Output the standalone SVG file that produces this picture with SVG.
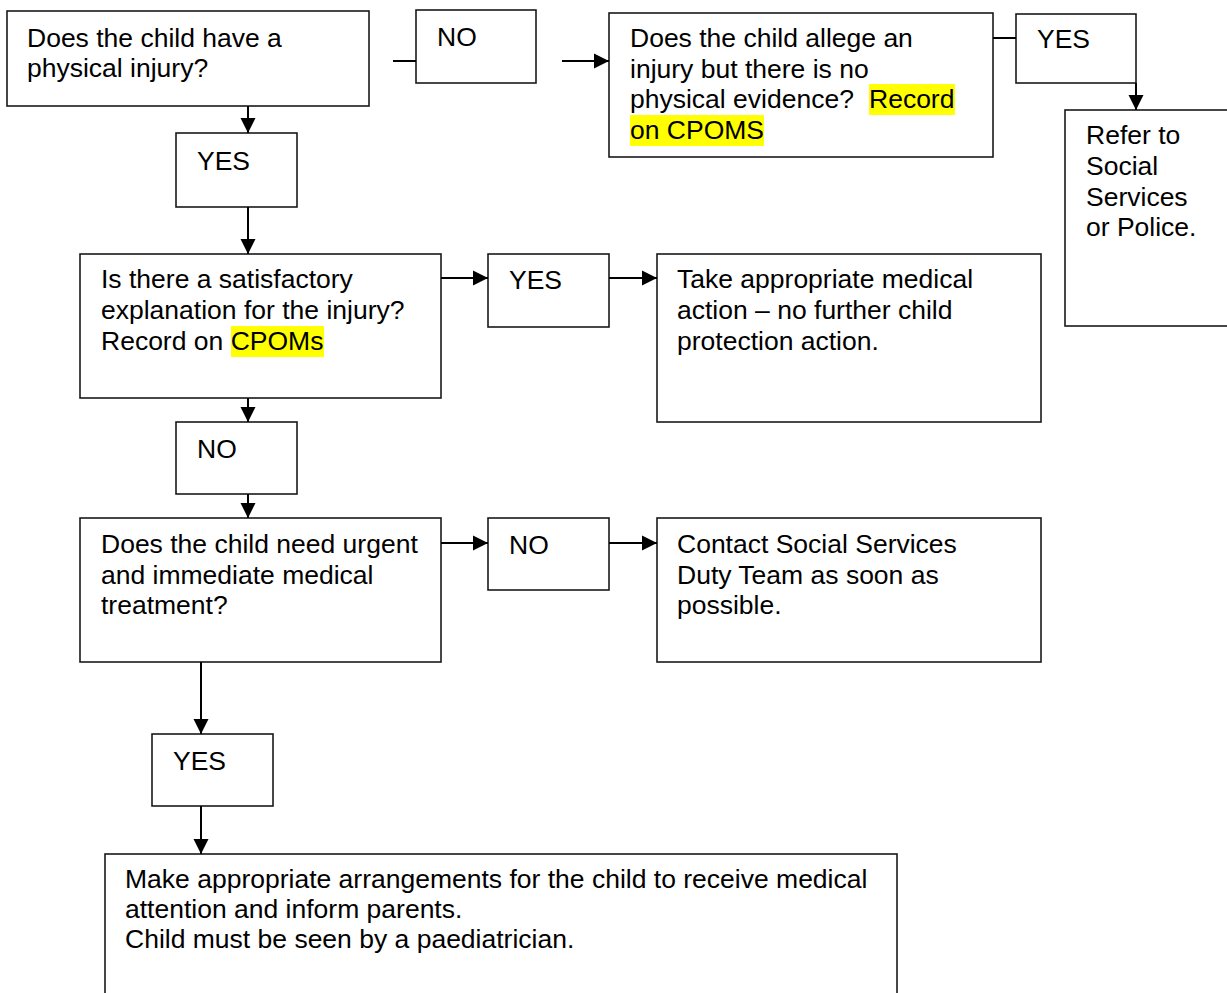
<svg xmlns="http://www.w3.org/2000/svg" width="1227" height="993" viewBox="0 0 1227 993">
<style>
.box{fill:#fff;stroke:#1a1a1a;stroke-width:1.6}
.t{font-family:"Liberation Sans",Arial,sans-serif;font-size:26.5px;fill:#000}
.hl{fill:#ffff00}
.c{stroke:#000;stroke-width:2;fill:none}
</style>
<defs>
<marker id="ah" markerUnits="userSpaceOnUse" markerWidth="16" markerHeight="16" viewBox="0 0 16 16" refX="15" refY="8" orient="auto">
<path d="M0,0.5 L15,8 L0,15.5 Z" fill="#000"/>
</marker>
</defs>
<rect x="0" y="0" width="1227" height="993" fill="#fff"/>

<g id="n1">
<rect class="box" x="7" y="11" width="362" height="95"/>
<text class="t" x="27" y="46.5">Does the child have a</text>
<text class="t" x="27" y="77">physical injury?</text>
</g>

<g id="n2">
<rect class="box" x="416" y="10" width="120" height="73"/>
<text class="t" x="437" y="46">NO</text>
</g>

<g id="n3">
<rect class="box" x="609" y="13" width="384" height="144"/>
<rect class="hl" x="869" y="84" width="86" height="31"/>
<rect class="hl" x="630" y="115" width="134" height="31"/>
<text class="t" x="630" y="47">Does the child allege an</text>
<text class="t" x="630" y="77.5">injury but there is no</text>
<text class="t" x="630" y="108">physical evidence?<tspan x="869">Record</tspan></text>
<text class="t" x="630" y="139">on CPOMS</text>
</g>

<g id="n4">
<rect class="box" x="1016" y="14" width="120" height="69"/>
<text class="t" x="1037" y="48">YES</text>
</g>

<g id="n5">
<rect class="box" x="1065" y="110" width="180" height="216"/>
<text class="t" x="1086" y="144">Refer to</text>
<text class="t" x="1086" y="175">Social</text>
<text class="t" x="1086" y="206">Services</text>
<text class="t" x="1086" y="236">or Police.</text>
</g>

<g id="n6">
<rect class="box" x="176" y="133" width="121" height="74"/>
<text class="t" x="197" y="170">YES</text>
</g>

<g id="n7">
<rect class="box" x="80" y="254" width="361" height="144"/>
<rect class="hl" x="231" y="326" width="93" height="31"/>
<text class="t" x="101" y="288">Is there a satisfactory</text>
<text class="t" x="101" y="319">explanation for the injury?</text>
<text class="t" x="101" y="350">Record on CPOMs</text>
</g>

<g id="n8">
<rect class="box" x="488" y="254" width="121" height="73"/>
<text class="t" x="509" y="289">YES</text>
</g>

<g id="n9">
<rect class="box" x="657" y="254" width="384" height="168"/>
<text class="t" x="677" y="287.5">Take appropriate medical</text>
<text class="t" x="677" y="318.5">action – no further child</text>
<text class="t" x="677" y="349.5">protection action.</text>
</g>

<g id="n10">
<rect class="box" x="176" y="422" width="121" height="72"/>
<text class="t" x="197" y="458">NO</text>
</g>

<g id="n11">
<rect class="box" x="80" y="518" width="361" height="144"/>
<text class="t" x="101" y="553">Does the child need urgent</text>
<text class="t" x="101" y="584">and immediate medical</text>
<text class="t" x="101" y="614">treatment?</text>
</g>

<g id="n12">
<rect class="box" x="488" y="518" width="121" height="72"/>
<text class="t" x="509" y="554">NO</text>
</g>

<g id="n13">
<rect class="box" x="657" y="518" width="384" height="144"/>
<text class="t" x="677" y="553">Contact Social Services</text>
<text class="t" x="677" y="584">Duty Team as soon as</text>
<text class="t" x="677" y="614">possible.</text>
</g>

<g id="n14">
<rect class="box" x="152" y="734" width="121" height="72"/>
<text class="t" x="173" y="770">YES</text>
</g>

<g id="n15">
<rect class="box" x="105" y="854" width="792" height="160"/>
<text class="t" x="125" y="888">Make appropriate arrangements for the child to receive medical</text>
<text class="t" x="125" y="918">attention and inform parents.</text>
<text class="t" x="125" y="948">Child must be seen by a paediatrician.</text>
</g>

<g id="connectors">
<line class="c" x1="393" y1="61" x2="416" y2="61"/>
<line class="c" x1="562" y1="61" x2="609" y2="61" marker-end="url(#ah)"/>
<line class="c" x1="993" y1="38" x2="1016" y2="38"/>
<line class="c" x1="1136" y1="83" x2="1136" y2="110" marker-end="url(#ah)"/>
<line class="c" x1="248" y1="106" x2="248" y2="133" marker-end="url(#ah)"/>
<line class="c" x1="248" y1="207" x2="248" y2="254" marker-end="url(#ah)"/>
<line class="c" x1="441" y1="278" x2="488" y2="278" marker-end="url(#ah)"/>
<line class="c" x1="609" y1="278" x2="657" y2="278" marker-end="url(#ah)"/>
<line class="c" x1="248" y1="398" x2="248" y2="422" marker-end="url(#ah)"/>
<line class="c" x1="248" y1="494" x2="248" y2="518" marker-end="url(#ah)"/>
<line class="c" x1="441" y1="543" x2="488" y2="543" marker-end="url(#ah)"/>
<line class="c" x1="609" y1="543" x2="657" y2="543" marker-end="url(#ah)"/>
<line class="c" x1="201" y1="662" x2="201" y2="734" marker-end="url(#ah)"/>
<line class="c" x1="201" y1="806" x2="201" y2="854" marker-end="url(#ah)"/>
</g>
</svg>
